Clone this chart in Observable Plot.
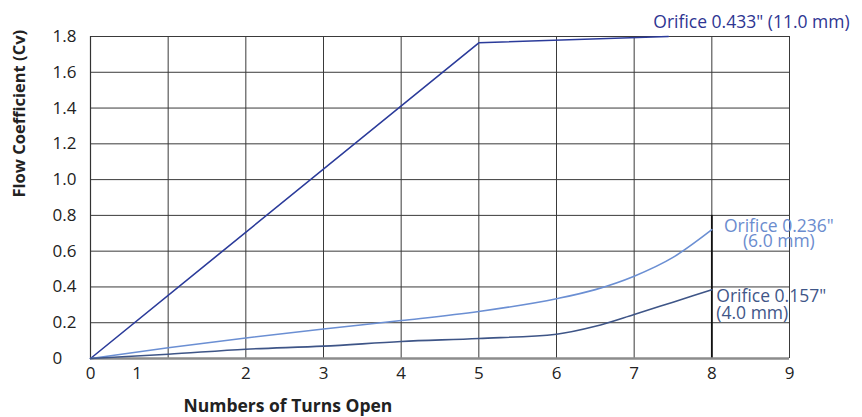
<!DOCTYPE html>
<html>
<head>
<meta charset="utf-8">
<script src="https://cdn.jsdelivr.net/npm/d3@7"></script>
<script src="https://cdn.jsdelivr.net/npm/@observablehq/plot@0.6"></script>
<style>
  html, body { margin: 0; padding: 0; background: #fff; }
</style>
</head>
<body>
<div id="chart"></div>
<script>
// Grid / tick values
const xGrid = [0, 1, 2, 3, 4, 5, 6, 7, 8, 9];
const xTickLabels = ["0", "1", "2", "3", "4", "5", "6", "7", "8", "9"];
const xTickLabelAt = [0, 0.6, 2, 3, 4, 5, 6, 7, 8, 9];
const yGrid = [0, 0.2, 0.4, 0.6, 0.8, 1.0, 1.2, 1.4, 1.6, 1.8];
const yTickLabels = ["0", "0.2", "0.4", "0.6", "0.8", "1.0", "1.2", "1.4", "1.6", "1.8"];

// Series: Orifice 0.433" (11.0 mm)
const turns433 = [0, 5, 7.44];
const cv433 = [0, 1.765, 1.80];
// Series: Orifice 0.236" (6.0 mm)
const turns236 = [0, 1, 2, 3, 4, 5, 6, 6.5, 7, 7.5, 8];
const cv236 = [0, 0.06, 0.115, 0.165, 0.212, 0.263, 0.334, 0.385, 0.46, 0.565, 0.72];
// Series: Orifice 0.157" (4.0 mm)
const turns157 = [0, 1, 2, 3, 4, 5, 6, 6.5, 7, 7.5, 8];
const cv157 = [0, 0.024, 0.052, 0.069, 0.095, 0.112, 0.136, 0.18, 0.246, 0.315, 0.384];

// Highlighted segment of the x = 8 grid line
const markerX = [8];
const markerTop = 0.8;

const series = [
  {name: "433", turns: turns433, cv: cv433, color: "#2b3b9a", curve: "linear", label: "Orifice 0.433\" (11.0 mm)"},
  {name: "236", turns: turns236, cv: cv236, color: "#6b8fd3", curve: "monotone-x", label: "Orifice 0.236\"\n(6.0 mm)"},
  {name: "157", turns: turns157, cv: cv157, color: "#3e5587", curve: "monotone-x", label: "Orifice 0.157\"\n(4.0 mm)"}
];
const pts = s => s.turns.map((t, i) => ({x: t, y: s.cv[i], s: s.name}));
const last = s => ({x: s.turns[s.turns.length - 1], y: s.cv[s.cv.length - 1], text: s.label});

const font = "'Open Sans', 'DejaVu Sans', sans-serif";

const chart = Plot.plot({
  width: 862,
  height: 417,
  marginLeft: 90,
  marginRight: 73,
  marginTop: 36,
  marginBottom: 59,
  x: {domain: [0, 9], axis: null},
  y: {domain: [0, 1.8], axis: null},
  style: {fontFamily: font, background: "#fff", overflow: "visible"},
  marks: [
    Plot.ruleX(xGrid, {stroke: "#3a3a3a", strokeWidth: 1}),
    Plot.ruleY(yGrid, {stroke: "#3a3a3a", strokeWidth: 1}),
    Plot.ruleX(markerX, {y1: 0, y2: markerTop, stroke: "#111", strokeWidth: 1.8}),
    Plot.ruleY([0], {stroke: "#8c8c8c", strokeWidth: 2.5}),
    Plot.ruleX([0], {stroke: "#333", strokeWidth: 1.2}),
    ...series.map(s => Plot.line(pts(s), {x: "x", y: "y", stroke: s.color, strokeWidth: 1.6, curve: s.curve})),
    // y tick labels
    Plot.text(yGrid, {y: d => d, text: (d, i) => yTickLabels[i], frameAnchor: "left", dx: -38, textAnchor: "start", fontSize: 17, fill: "#222"}),
    // x tick labels
    Plot.text(xTickLabelAt, {x: d => d, text: (d, i) => xTickLabels[i], frameAnchor: "bottom", dy: 15, lineAnchor: "middle", fontSize: 17, fill: "#222"}),
    // axis titles
    Plot.text(["Flow Coefficient (Cv)"], {frameAnchor: "left", dx: -71, rotate: -90, fontSize: 16.5, fontWeight: "bold", fill: "#222", lineAnchor: "middle"}),
    Plot.text(["Numbers of Turns Open"], {frameAnchor: "bottom-left", dx: 93, dy: 48, textAnchor: "start", lineAnchor: "middle", fontSize: 17.5, fontWeight: "bold", fill: "#222"}),
    // series labels
    Plot.text([last(series[0])], {x: "x", y: "y", text: "text", dx: -15, dy: -8.7, textAnchor: "start", lineAnchor: "bottom", fontSize: 17.5, fill: "#2e3592"}),
    Plot.text([last(series[1])], {x: "x", y: "y", text: "text", dx: 67, dy: 17.7, textAnchor: "middle", lineAnchor: "bottom", lineHeight: 0.88, fontSize: 17.5, fill: "#6b8cce"}),
    Plot.text([last(series[2])], {x: "x", y: "y", text: "text", dx: 4.5, dy: 28.7, textAnchor: "start", lineAnchor: "bottom", lineHeight: 0.92, fontSize: 17.5, fill: "#3f5688"})
  ]
});
document.getElementById("chart").appendChild(chart);
</script>
</body>
</html>
